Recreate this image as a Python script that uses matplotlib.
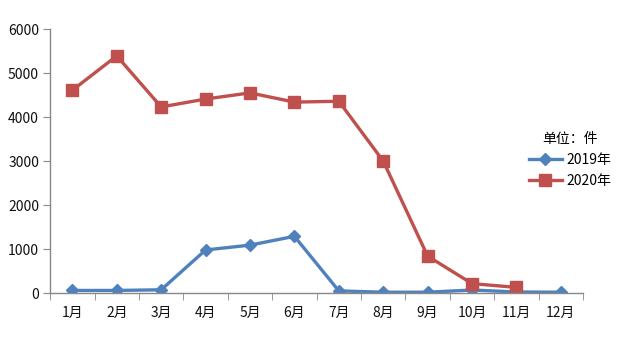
import matplotlib.pyplot as plt
import numpy as np

plt.rcParams['font.family'] = ['Noto Sans CJK SC', 'DejaVu Sans']

months = ['1月', '2月', '3月', '4月', '5月', '6月', '7月', '8月', '9月', '10月', '11月', '12月']
cases_2019 = [60, 60, 75, 980, 1090, 1290, 50, 20, 20, 70, 25, 20]
cases_2020 = [4610, 5390, 4230, 4410, 4550, 4340, 4360, 3000, 840, 215, 130, np.nan]

fig = plt.figure(figsize=(6.19, 3.42), dpi=100)
ax = fig.add_axes([0.081, 0.143, 0.861, 0.772])

x = np.arange(len(months))
ax.plot(x, cases_2019, color='#4F81BD', lw=2.4, marker='D', ms=6.5,
        markeredgecolor='#4F81BD', label='2019年')
ax.plot(x, cases_2020, color='#C0504D', lw=2.4, marker='s', ms=8,
        markeredgecolor='#C0504D', label='2020年')

ax.set_xlim(-0.5, len(months) - 0.5)
ax.set_ylim(0, 6000)
ax.set_yticks(range(0, 6001, 1000))
ax.set_xticks(x)
ax.set_xticklabels(months)
ax.set_xticks(np.arange(-0.5, len(months), 1), minor=True)
ax.tick_params(axis='x', which='major', length=0, pad=9, labelsize=10, colors='#111111')
ax.tick_params(axis='x', which='minor', length=5, color='#888888', direction='out')
ax.tick_params(axis='y', length=5, labelsize=10, colors='#111111', pad=3)
ax.tick_params(axis='y', color='#888888')

for s in ['top', 'right']:
    ax.spines[s].set_visible(False)
for s in ['left', 'bottom']:
    ax.spines[s].set_color('#888888')
    ax.spines[s].set_linewidth(1)

leg = ax.legend(title='单位：件', frameon=False, loc='upper left',
                bbox_to_anchor=(0.845, 0.63), bbox_transform=fig.transFigure,
                fontsize=10, title_fontsize=10, handlelength=2.4,
                handletextpad=0.3, labelspacing=0.5, borderaxespad=0)
leg._legend_box.align = 'center'

fig.savefig('out.png', dpi=100)
